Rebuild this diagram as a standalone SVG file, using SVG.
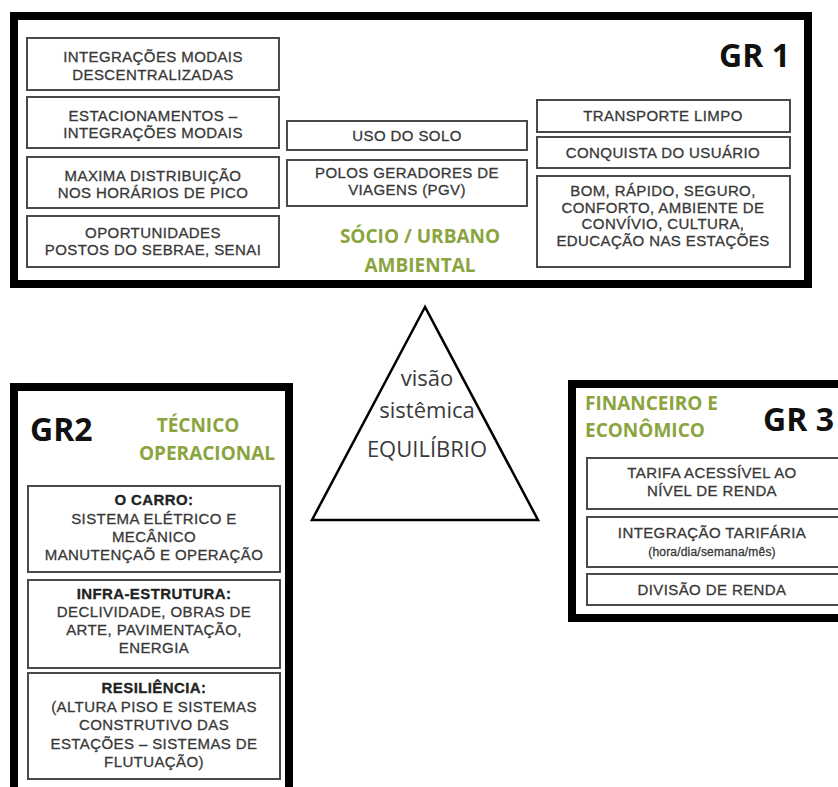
<svg xmlns="http://www.w3.org/2000/svg" width="838" height="787" viewBox="0 0 838 787">
<style>
.frame{fill:#fff;stroke:#000;stroke-width:8}
.box{fill:#fff;stroke:#4a4a4a;stroke-width:2}
.t{font-family:"Liberation Sans",Arial,sans-serif;font-size:15px;letter-spacing:0.4px;fill:#383838;stroke:#383838;stroke-width:0.3px;text-anchor:middle}
.tb{font-weight:bold;fill:#222;stroke:#222}
.ts{font-size:12px;letter-spacing:0.2px}
.gr{font-family:"Open Sans",sans-serif;font-weight:bold;font-size:32px;fill:#111}
.green{font-family:"Open Sans",sans-serif;font-weight:bold;font-size:19px;fill:#8aa43e}
.tri{font-family:"Open Sans",sans-serif;font-size:22px;fill:#3a3a3a;text-anchor:middle}
</style>
<rect width="838" height="787" fill="#fff"/>

<g id="gr1">
<rect class="frame" x="14" y="16" width="794" height="268" stroke-width="7"/>
<text class="gr" x="790" y="67" text-anchor="end">GR 1</text>
<text class="green" x="420" y="243" text-anchor="middle" font-size="21">SÓCIO / URBANO</text>
<text class="green" x="420" y="272" text-anchor="middle" font-size="21">AMBIENTAL</text>
</g>

<g id="n-integracoes-descentralizadas">
<rect class="box" x="27" y="38" width="252" height="52"/>
<text class="t" x="153" y="62">INTEGRAÇÕES MODAIS</text>
<text class="t" x="153" y="80">DESCENTRALIZADAS</text>
</g>
<g id="n-estacionamentos">
<rect class="box" x="27" y="97" width="252" height="51"/>
<text class="t" x="153" y="121">ESTACIONAMENTOS –</text>
<text class="t" x="153" y="138">INTEGRAÇÕES MODAIS</text>
</g>
<g id="n-maxima">
<rect class="box" x="27" y="157" width="252" height="51"/>
<text class="t" x="153" y="181">MAXIMA DISTRIBUIÇÃO</text>
<text class="t" x="153" y="198">NOS HORÁRIOS DE PICO</text>
</g>
<g id="n-oportunidades">
<rect class="box" x="27" y="216" width="252" height="51"/>
<text class="t" x="153" y="238">OPORTUNIDADES</text>
<text class="t" x="153" y="255">POSTOS DO SEBRAE, SENAI</text>
</g>
<g id="n-uso-solo">
<rect class="box" x="287" y="121" width="240" height="29"/>
<text class="t" x="407" y="141">USO DO SOLO</text>
</g>
<g id="n-polos">
<rect class="box" x="287" y="160" width="240" height="46"/>
<text class="t" x="407" y="178">POLOS GERADORES DE</text>
<text class="t" x="407" y="195">VIAGENS (PGV)</text>
</g>
<g id="n-transporte-limpo">
<rect class="box" x="537" y="100" width="253" height="32"/>
<text class="t" x="663" y="121">TRANSPORTE LIMPO</text>
</g>
<g id="n-conquista">
<rect class="box" x="537" y="137" width="253" height="31"/>
<text class="t" x="663" y="158">CONQUISTA DO USUÁRIO</text>
</g>
<g id="n-bom">
<rect class="box" x="537" y="176" width="253" height="91"/>
<text class="t" x="663" y="196">BOM, RÁPIDO, SEGURO,</text>
<text class="t" x="663" y="213">CONFORTO, AMBIENTE DE</text>
<text class="t" x="663" y="229">CONVÍVIO, CULTURA,</text>
<text class="t" x="663" y="246">EDUCAÇÃO NAS ESTAÇÕES</text>
</g>

<g id="triangle">
<polygon points="425,307 312,520 538,520" fill="#fff" stroke="#000" stroke-width="2.5" stroke-linejoin="miter"/>
<text class="tri" x="427" y="386">visão</text>
<text class="tri" x="427" y="418">sistêmica</text>
<text class="tri" x="427" y="457">EQUILÍBRIO</text>
</g>

<g id="gr2">
<rect class="frame" x="14" y="387" width="275" height="430"/>
<text class="gr" x="30" y="441" font-size="33">GR2</text>
<text class="green" x="198" y="432" text-anchor="middle">TÉCNICO</text>
<text class="green" x="207" y="460" text-anchor="middle">OPERACIONAL</text>
</g>
<g id="n-carro">
<rect class="box" x="28" y="486" width="252" height="86"/>
<text class="t tb" x="154" y="505">O CARRO:</text>
<text class="t" x="154" y="524">SISTEMA ELÉTRICO E</text>
<text class="t" x="154" y="542">MECÂNICO</text>
<text class="t" x="154" y="560">MANUTENÇAÕ E OPERAÇÃO</text>
</g>
<g id="n-infra">
<rect class="box" x="28" y="580" width="252" height="88"/>
<text class="t tb" x="154" y="599">INFRA-ESTRUTURA:</text>
<text class="t" x="154" y="617">DECLIVIDADE, OBRAS DE</text>
<text class="t" x="154" y="635">ARTE, PAVIMENTAÇÃO,</text>
<text class="t" x="154" y="653">ENERGIA</text>
</g>
<g id="n-resiliencia">
<rect class="box" x="28" y="673" width="252" height="106"/>
<text class="t tb" x="154" y="693">RESILIÊNCIA:</text>
<text class="t" x="154" y="712">(ALTURA PISO E SISTEMAS</text>
<text class="t" x="154" y="730">CONSTRUTIVO DAS</text>
<text class="t" x="154" y="749">ESTAÇÕES – SISTEMAS DE</text>
<text class="t" x="154" y="767">FLUTUAÇÃO)</text>
</g>

<g id="gr3">
<rect class="frame" x="572" y="384" width="300" height="234"/>
<text class="green" x="585" y="410">FINANCEIRO E</text>
<text class="green" x="585" y="437">ECONÔMICO</text>
<text class="gr" x="834" y="431" text-anchor="end">GR 3</text>
</g>
<g id="n-tarifa">
<rect class="box" x="587" y="458" width="260" height="51"/>
<text class="t" x="712" y="478">TARIFA ACESSÍVEL AO</text>
<text class="t" x="712" y="496">NÍVEL DE RENDA</text>
</g>
<g id="n-integracao-tarifaria">
<rect class="box" x="587" y="517" width="260" height="50"/>
<text class="t" x="712" y="538">INTEGRAÇÃO TARIFÁRIA</text>
<text class="t ts" x="712" y="556">(hora/dia/semana/mês)</text>
</g>
<g id="n-divisao">
<rect class="box" x="587" y="574" width="260" height="31"/>
<text class="t" x="712" y="595">DIVISÃO DE RENDA</text>
</g>

<g id="connectors"></g>
</svg>
